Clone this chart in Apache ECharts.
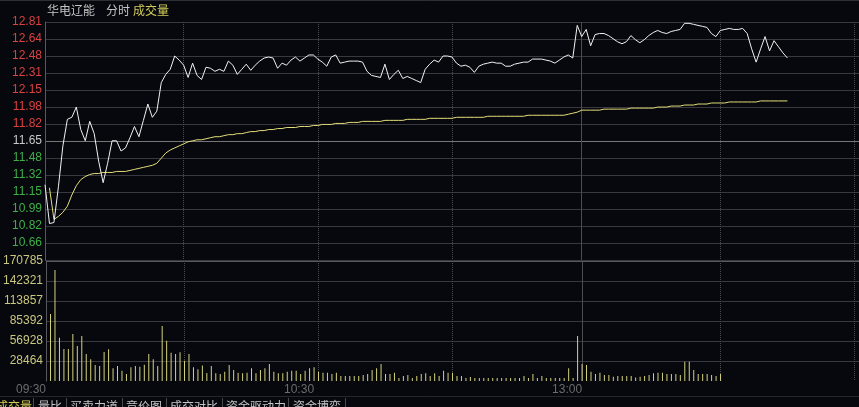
<!DOCTYPE html>
<html>
<head>
<meta charset="utf-8">
<title>华电辽能 分时</title>
<script src="https://cdn.jsdelivr.net/npm/echarts@6/dist/echarts.min.js"></script>
<style>
  html, body { margin: 0; padding: 0; background: #07070e; }
  #chart { width: 859px; height: 407px; }
</style>
</head>
<body>
<div id="chart"></div>
<script>
// tick labels as printed on the terminal
var priceLabels = ['', '10.66', '10.82', '10.99', '11.15', '11.32', '11.48', '11.65',
  '11.82', '11.98', '12.15', '12.31', '12.48', '12.64', '12.81'];
var volumeLabels = ['', '28464', '56928', '85392', '113857', '142321', '170785'];
var timeLabels = ['09:30', '10:30', '13:00'];
var tabs = ['成交量', '量比', '买卖力道', '竞价图', '成交对比', '资金驱动力', '资金博弈'];

// one value per minute from 09:30
var prices = [
  11.22, 10.84, 10.85, 11.20, 11.60, 11.86, 11.88, 11.98, 11.76, 11.65,
  11.84, 11.72, 11.45, 11.24, 11.43, 11.65, 11.65, 11.55, 11.58, 11.68,
  11.79, 11.69, 11.85, 12.01, 11.88, 11.94, 12.22, 12.30, 12.35, 12.48,
  12.44, 12.39, 12.27, 12.41, 12.29, 12.25, 12.37, 12.36, 12.33, 12.35,
  12.33, 12.43, 12.39, 12.30, 12.35, 12.40, 12.34, 12.39, 12.43, 12.46,
  12.47, 12.46, 12.36, 12.41, 12.39, 12.44, 12.47, 12.43, 12.46, 12.49,
  12.49, 12.45, 12.42, 12.38, 12.47, 12.49, 12.41, 12.42, 12.43, 12.43,
  12.43, 12.42, 12.33, 12.29, 12.28, 12.27, 12.40, 12.25, 12.30, 12.34,
  12.26, 12.28, 12.26, 12.24, 12.22, 12.35, 12.40, 12.44, 12.42, 12.48,
  12.48, 12.47, 12.41, 12.38, 12.39, 12.37, 12.32, 12.38, 12.40, 12.41,
  12.42, 12.41, 12.41, 12.38, 12.38, 12.40, 12.41, 12.42, 12.42, 12.45,
  12.45, 12.45, 12.44, 12.43, 12.41, 12.44, 12.47, 12.49, 12.46, 12.78,
  12.67, 12.74, 12.58, 12.69, 12.70, 12.70, 12.68, 12.65, 12.62, 12.60,
  12.62, 12.68, 12.64, 12.61, 12.64, 12.68, 12.71, 12.73, 12.71, 12.70,
  12.72, 12.73, 12.74, 12.80, 12.80, 12.79, 12.78, 12.77, 12.76, 12.70,
  12.67, 12.73, 12.74, 12.75, 12.74, 12.74, 12.75, 12.70, 12.55, 12.42,
  12.55, 12.67, 12.53, 12.63, 12.57, 12.51, 12.46
];
var averages = [
  '-', 11.19, 10.88, 10.91, 10.95, 11.01, 11.12, 11.21, 11.27, 11.30,
  11.32, 11.33, 11.33, 11.34, 11.34, 11.34, 11.35, 11.35, 11.35, 11.36,
  11.37, 11.38, 11.39, 11.40, 11.41, 11.43, 11.48, 11.53, 11.56, 11.58,
  11.60, 11.62, 11.64, 11.65, 11.66, 11.66, 11.67, 11.68, 11.69, 11.69,
  11.70, 11.71, 11.71, 11.72, 11.72, 11.73, 11.74, 11.74, 11.75, 11.75,
  11.76, 11.76, 11.77, 11.77, 11.78, 11.78, 11.78, 11.79, 11.79, 11.79,
  11.80, 11.80, 11.81, 11.81, 11.81, 11.82, 11.82, 11.82, 11.83, 11.83,
  11.83, 11.84, 11.84, 11.84, 11.84, 11.84, 11.85, 11.85, 11.85, 11.85,
  11.85, 11.86, 11.86, 11.86, 11.86, 11.86, 11.87, 11.87, 11.87, 11.87,
  11.87, 11.87, 11.88, 11.88, 11.88, 11.88, 11.88, 11.88, 11.88, 11.89,
  11.89, 11.89, 11.89, 11.89, 11.89, 11.89, 11.89, 11.89, 11.90, 11.90,
  11.90, 11.90, 11.90, 11.90, 11.90, 11.90, 11.90, 11.91, 11.92, 11.93,
  11.95, 11.95, 11.95, 11.95, 11.95, 11.96, 11.96, 11.96, 11.96, 11.96,
  11.96, 11.97, 11.97, 11.97, 11.97, 11.97, 11.97, 11.98, 11.98, 11.98,
  11.99, 11.99, 11.99, 12.00, 12.00, 12.00, 12.01, 12.01, 12.01, 12.02,
  12.02, 12.02, 12.02, 12.03, 12.03, 12.03, 12.03, 12.03, 12.03, 12.03,
  12.04, 12.04, 12.04, 12.04, 12.04, 12.04, 12.04
];
var volumes = [
  0, 95300, 158000, 61600, 45500, 45500, 66900, 49800, 64000, 38400,
  31000, 22800, 21500, 41200, 45300, 18000, 21500, 14500, 10000, 19500,
  21500, 20300, 23000, 38400, 31000, 21500, 78300, 57300, 40300, 38400,
  41000, 28900, 38400, 19500, 16600, 22000, 11500, 21300, 11200, 10000,
  13200, 22800, 15600, 11800, 11000, 11800, 18000, 11000, 15600, 18000,
  24200, 13200, 11000, 11000, 13200, 14700, 14700, 10000, 14700, 18000,
  19500, 13200, 11800, 11800, 10000, 11800, 7100, 7100, 7100, 7100,
  7100, 8500, 10000, 15600, 18000, 24200, 10000, 10000, 11800, 4300,
  7100, 8500, 4300, 7100, 10000, 11000, 7100, 11000, 7100, 14700,
  11800, 11800, 7100, 7100, 4300, 5700, 4300, 4300, 4300, 4300,
  4300, 4300, 4300, 4300, 4300, 4300, 4300, 7100, 4300, 10000,
  4300, 7100, 4300, 4300, 4300, 4300, 4300, 18000, 4300, 64000,
  24200, 22800, 13200, 10000, 11800, 8500, 8500, 6000, 7100, 7100,
  7100, 7100, 5000, 6000, 7100, 8500, 11000, 11800, 11800, 10000,
  10000, 10000, 8500, 27500, 27500, 15600, 10000, 10000, 10000, 8500,
  7100, 10000
];

var PRICE_STEP = 0.1664;
var PRICE_MIN = 63 * PRICE_STEP;
var PRICE_MAX = 77 * PRICE_STEP;
var VOL_STEP = 170785 / 6;
var DOTTED = [31, 61, 91, 151, 181];
var SOLID = [120];
var FONT = '"Liberation Sans", Arial, sans-serif';
var CJK = '"Noto Sans CJK SC", sans-serif';

function buildMinutes() {
  var list = [];
  var pad = function (n) { return (n < 10 ? '0' : '') + n; };
  var m;
  for (m = 9 * 60 + 30; m < 11 * 60 + 30; m++) {
    list.push(pad(Math.floor(m / 60)) + ':' + pad(m % 60));
  }
  for (m = 13 * 60; m <= 14 * 60 + 2; m++) {
    list.push(pad(Math.floor(m / 60)) + ':' + pad(m % 60));
  }
  return list;
}

var minutes = buildMinutes();

function timeAxis(grid, marks, type, showLabels) {
  return {
    type: 'category',
    gridIndex: grid,
    data: minutes,
    boundaryGap: false,
    axisLine: { show: false },
    axisTick: { show: false },
    axisLabel: {
      show: showLabels,
      color: '#6c6c6c',
      fontSize: 12,
      fontFamily: FONT,
      align: 'right',
      margin: 3,
      interval: function (i, v) { return timeLabels.indexOf(v) >= 0 && (i === 0 || i === 60 || i === 120); }
    },
    splitLine: {
      show: true,
      interval: function (i) { return marks.indexOf(i) >= 0; },
      lineStyle: { color: '#4c4c52', width: 1, type: type }
    }
  };
}

var priceLineColors = [];
for (var k = 0; k < priceLabels.length; k++) {
  priceLineColors.push(priceLabels[k] === '11.65' ? '#767676' : '#38383e');
}

var tabGraphics = [];
var tabX = [-4, 38, 70, 126, 170, 226, 293];
var sepX = [33, 66, 122, 166, 222, 288, 345];
tabs.forEach(function (t, i) {
  tabGraphics.push({
    type: 'text', left: tabX[i], top: 400,
    style: { text: t, fill: i === 0 ? '#d6cf4e' : '#c4c4c4', font: '12px ' + CJK }
  });
  tabGraphics.push({
    type: 'line', shape: { x1: sepX[i] + 0.5, y1: 398, x2: sepX[i] + 0.5, y2: 407 },
    style: { stroke: '#4a4a4a', lineWidth: 1 }
  });
});

var myChart = echarts.init(document.getElementById('chart'));

var option = {
  backgroundColor: '#07070e',
  animation: false,
  graphic: [
    { type: 'line', shape: { x1: 0, y1: 0.5, x2: 859, y2: 0.5 }, style: { stroke: '#2e2e34', lineWidth: 1 } },
    { type: 'line', shape: { x1: 0, y1: 396.5, x2: 859, y2: 396.5 }, style: { stroke: '#26262c', lineWidth: 1 } },
    { type: 'text', left: 47, top: 4, style: { text: '华电辽能', fill: '#c4c4c4', font: '12px ' + CJK } },
    { type: 'text', left: 106, top: 4, style: { text: '分时', fill: '#c4c4c4', font: '12px ' + CJK } },
    { type: 'text', left: 133, top: 4, style: { text: '成交量', fill: '#d2cd5a', font: '12px ' + CJK } }
  ].concat(tabGraphics),
  grid: [
    { left: 45, right: 0, top: 22, height: 238 },
    { left: 45, right: 0, top: 261, height: 120 }
  ],
  xAxis: [
    timeAxis(0, DOTTED, 'dotted', false),
    timeAxis(0, SOLID, 'solid', false),
    timeAxis(1, DOTTED, 'dotted', true),
    timeAxis(1, SOLID, 'solid', false)
  ],
  yAxis: [
    {
      type: 'value',
      gridIndex: 0,
      min: PRICE_MIN,
      max: PRICE_MAX,
      interval: PRICE_STEP,
      axisLine: { show: true, lineStyle: { color: '#58585e' } },
      axisTick: { show: false },
      axisLabel: {
        margin: 3,
        fontSize: 12,
        fontFamily: FONT,
        formatter: function (v) {
          return priceLabels[Math.round((v - PRICE_MIN) / PRICE_STEP)] || '';
        },
        color: function (v) {
          var i = Math.round((v - PRICE_MIN) / PRICE_STEP);
          if (i > 7) return '#d9423f';
          if (i < 7) return '#3fae47';
          return '#c8c8c8';
        }
      },
      splitLine: { show: true, lineStyle: { color: priceLineColors, width: 1 } }
    },
    {
      type: 'value',
      gridIndex: 1,
      min: 0,
      max: 170785,
      interval: VOL_STEP,
      axisLine: { show: true, lineStyle: { color: '#58585e' } },
      axisTick: { show: false },
      axisLabel: {
        margin: 3,
        fontSize: 12,
        fontFamily: FONT,
        color: '#c9c77e',
        formatter: function (v) {
          return volumeLabels[Math.round(v / VOL_STEP)] || '';
        }
      },
      splitLine: {
        show: true,
        lineStyle: { color: ['rgba(0,0,0,0)', '#38383e', '#38383e', '#38383e', '#38383e', '#38383e', '#58585e'], width: 1 }
      }
    }
  ],
  series: [
    {
      name: '价格',
      type: 'line',
      xAxisIndex: 0,
      yAxisIndex: 0,
      data: prices,
      symbol: 'none',
      lineStyle: { color: '#f2f2f2', width: 1 },
      z: 5
    },
    {
      name: '均价',
      type: 'line',
      xAxisIndex: 0,
      yAxisIndex: 0,
      data: averages,
      symbol: 'none',
      lineStyle: { color: '#e4df78', width: 1 },
      z: 4
    },
    {
      name: '成交量',
      type: 'bar',
      xAxisIndex: 2,
      yAxisIndex: 1,
      data: volumes,
      barWidth: 1,
      itemStyle: { color: '#d4d27e' }
    }
  ]
};

myChart.setOption(option);
</script>
</body>
</html>
